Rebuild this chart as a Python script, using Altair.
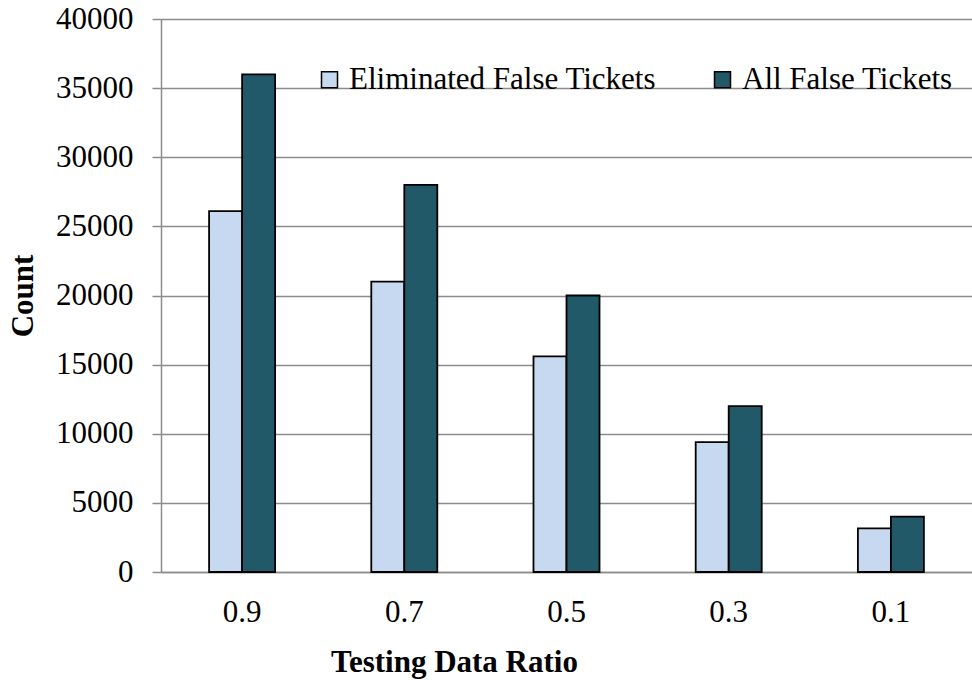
import altair as alt
import pandas as pd

# Testing data ratio categories and the two count series
ratios = ["0.9", "0.7", "0.5", "0.3", "0.1"]
eliminated = [26100, 21000, 15600, 9400, 3150]
all_false = [36000, 28000, 20000, 12000, 4000]
series_names = ["Eliminated False Tickets", "All False Tickets"]
series_colors = ["#C6D9F1", "#215968"]

rows = []
for r, e, a in zip(ratios, eliminated, all_false):
    rows.append({"ratio": r, "series": series_names[0], "count": e})
    rows.append({"ratio": r, "series": series_names[1], "count": a})
df = pd.DataFrame(rows)

FONT = "Liberation Serif"
FS = 31
GRID = "#8C8C8C"

chart = (
    alt.Chart(df)
    .mark_bar(stroke="black", strokeWidth=1.8)
    .encode(
        x=alt.X(
            "ratio:N",
            sort=ratios,
            scale=alt.Scale(paddingInner=0.593, paddingOuter=0.2965),
            axis=alt.Axis(
                title="Testing Data Ratio",
                labelAngle=0,
                ticks=False,
                labelPadding=25,
                labelFontSize=FS,
                labelFont=FONT,
                labelColor="black",
                titleFont=FONT,
                titleFontSize=FS,
                titleFontWeight="bold",
                titleColor="black",
                titlePadding=20,
                titleX=293,
                domainColor=GRID,
                domainWidth=1.5,
            ),
        ),
        xOffset=alt.XOffset("series:N", sort=series_names),
        y=alt.Y(
            "count:Q",
            scale=alt.Scale(domain=[0, 40000]),
            axis=alt.Axis(
                title="Count",
                values=list(range(0, 40001, 5000)),
                format="d",
                tickSize=9,
                tickColor=GRID,
                tickWidth=1.5,
                labelPadding=19,
                labelFontSize=FS,
                labelFont=FONT,
                labelColor="black",
                titleFont=FONT,
                titleFontSize=FS,
                titleFontWeight="bold",
                titleColor="black",
                titlePadding=16,
                domainColor=GRID,
                domainWidth=1.5,
                gridColor=GRID,
                gridWidth=1.5,
            ),
        ),
        color=alt.Color(
            "series:N",
            sort=series_names,
            scale=alt.Scale(domain=series_names, range=series_colors),
            legend=alt.Legend(
                title=None,
                orient="none",
                direction="horizontal",
                legendX=153,
                legendY=45,
                symbolType="square",
                symbolSize=256,
                symbolStrokeColor="black",
                symbolStrokeWidth=1.5,
                symbolOpacity=1,
                labelFont=FONT,
                labelFontSize=FS,
                labelColor="black",
                labelOffset=4,
                columnPadding=50,
                labelLimit=0,
            ),
        ),
    )
    .properties(
        width=811,
        height=553,
        autosize=alt.AutoSizeParams(type="none"),
        padding={"left": 161, "top": 19, "right": 0, "bottom": 108},
    )
    .configure_view(stroke=None)
    .configure(background="white")
)

chart.save("out.html", embed_options={"renderer": "svg", "actions": False})
